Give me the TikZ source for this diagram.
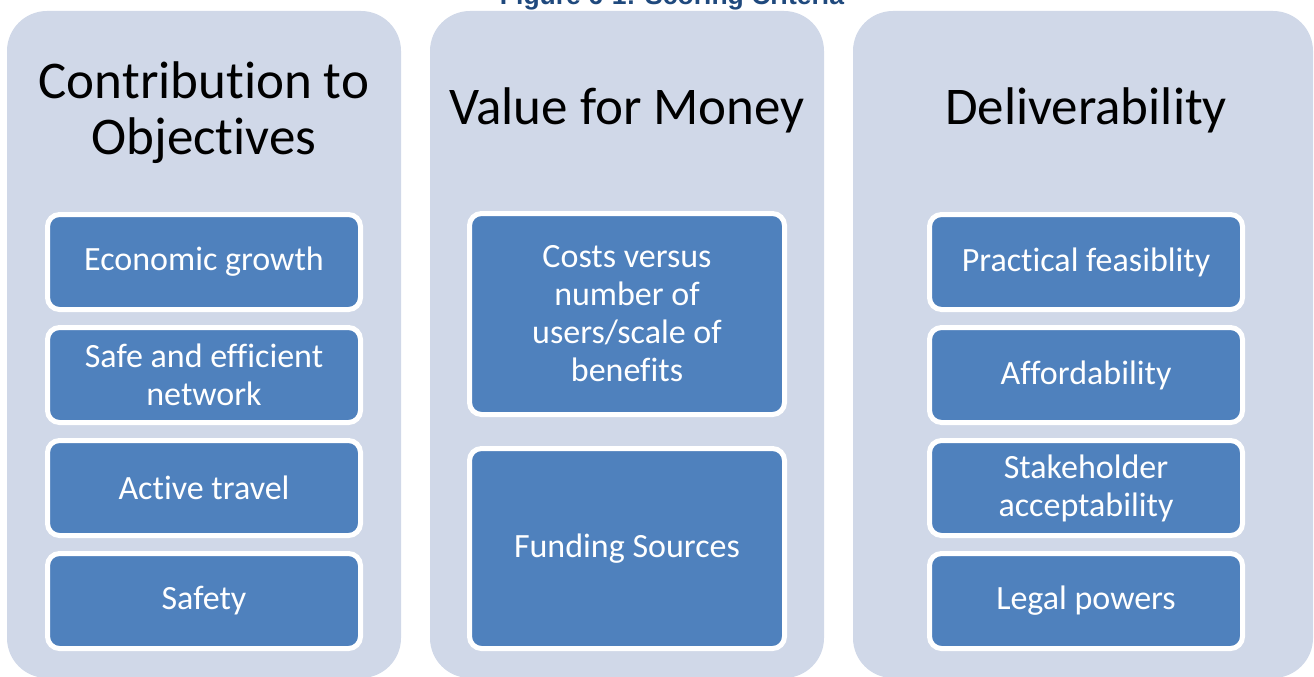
\documentclass[tikz,border=0pt]{standalone}
\usepackage{fontspec}
\setmainfont{Carlito}[Ligatures={NoCommon}]
\newfontfamily\captionfont{Liberation Sans}
\definecolor{panelc}{HTML}{D0D8E8}
\definecolor{boxblue}{HTML}{4F81BD}
\definecolor{captionblue}{HTML}{1F497D}
\begin{document}
\begin{tikzpicture}[x=1pt,y=-1pt,
  panel/.style={fill=panelc, draw=none, rounded corners=40pt, inner sep=0pt},
  headtext/.style={text=black, font=\fontsize{53}{56}\selectfont, align=center, inner sep=0pt},
  itembox/.style={fill=boxblue, draw=white, line width=5pt, rounded corners=12pt,
    minimum width=313pt, minimum height=95pt, text=white,
    font=\fontsize{34}{38}\selectfont, align=center, inner sep=0pt}]
\useasboundingbox (0,0) rectangle (1314,677);
\clip (0,0) rectangle (1314,677);
% caption (cut off at top, as in the reference)
\node[anchor=base, inner sep=0pt, text=captionblue, font=\captionfont\bfseries\fontsize{26.5}{30}\selectfont] (cap) at (672,5) {Figure 6-1: Scoring Criteria};
% panels
\node[panel, minimum width=394pt, minimum height=667pt] (p1) at (204,344.5) {};
\node[panel, minimum width=394pt, minimum height=667pt] (p2) at (627,344.5) {};
\node[panel, minimum width=460pt, minimum height=667pt] (p3) at (1083,344.5) {};
% headings
\node[headtext] (h1) at (204,113) {Contribution to\\Objectives};
\node[headtext] (h2) at (627,110) {Value for Money};
\node[headtext] (h3) at (1086,110) {Deliverability};
% column 1
\node[itembox] (a1) at (204,262) {Economic growth};
\node[itembox] (a2) at (204,375) {Safe and efficient\\network};
\node[itembox] (a3) at (204,488) {Active travel};
\node[itembox] (a4) at (204,601) {Safety};
% column 2
\node[itembox, minimum width=315pt, minimum height=201pt] (b1) at (627,314) {Costs versus\\number of\\users/scale of\\benefits};
\node[itembox, minimum width=315pt, minimum height=200pt] (b2) at (627,548.5) {Funding Sources};
% column 3
\node[itembox] (c1) at (1086,262) {Practical feasiblity};
\node[itembox] (c2) at (1086,375) {Affordability};
\node[itembox] (c3) at (1086,488) {Stakeholder\\acceptability};
\node[itembox] (c4) at (1086,601) {Legal powers};
\end{tikzpicture}
\end{document}
